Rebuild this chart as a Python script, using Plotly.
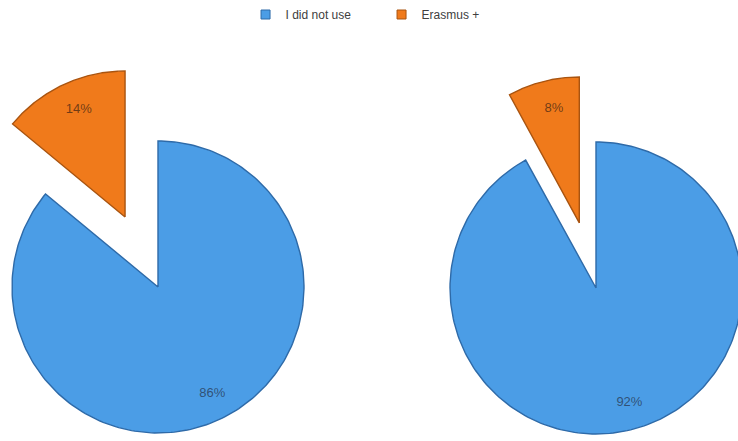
import numpy as np
import plotly.graph_objects as go

# Survey answers: share of respondents per category, two groups
categories = ["I did not use", "Erasmus +"]
left_values = [86, 14]
right_values = [92, 8]
left_labels = ["86%", "14%"]
right_labels = ["92%", "8%"]

fill_colors = ["#4b9de6", "#f07a1b"]
edge_colors = ["#2e6aa8", "#a95410"]
text_colors = ["rgba(40,55,80,0.75)", "rgba(70,40,20,0.75)"]

W, H = 738, 441
RADIUS = 146
pies = [
    dict(values=left_values, labels=left_labels, center=(158, 287), pull=[0, 0.53]),
    dict(values=right_values, labels=right_labels, center=(596, 288), pull=[0, 0.46]),
]


def wedge(cx, cy, r, start, end, n=240):
    """Closed wedge outline; angles in degrees clockwise from 12 o'clock, y grows downward."""
    t = np.radians(np.linspace(start, end, n))
    xs = np.concatenate([[cx], cx + r * np.sin(t), [cx]])
    ys = np.concatenate([[cy], cy - r * np.cos(t), [cy]])
    return xs, ys


fig = go.Figure()

for pie in pies:
    vals = np.array(pie["values"], dtype=float)
    shares = vals / vals.sum() * 360.0
    start = 0.0
    cx0, cy0 = pie["center"]
    for i, (share, lab) in enumerate(zip(shares, pie["labels"])):
        end = start + share
        mid = np.radians((start + end) / 2)
        off = pie["pull"][i] * RADIUS
        cx = cx0 + off * np.sin(mid)
        cy = cy0 - off * np.cos(mid)
        xs, ys = wedge(cx, cy, RADIUS, start, end)
        fig.add_trace(go.Scatter(
            x=xs, y=ys, mode="lines", fill="toself",
            fillcolor=fill_colors[i],
            line=dict(color=edge_colors[i], width=1.4),
            hoverinfo="skip", showlegend=False,
        ))
        lr = 0.81 * RADIUS
        fig.add_trace(go.Scatter(
            x=[cx + lr * np.sin(mid) + 4], y=[cy - lr * np.cos(mid)],
            mode="text", text=[lab],
            textfont=dict(family="Liberation Sans", size=13, color=text_colors[i]),
            hoverinfo="skip", showlegend=False,
        ))
        start = end

# legend entries
for name, c, ec in zip(categories, fill_colors, edge_colors):
    fig.add_trace(go.Scatter(
        x=[None], y=[None], mode="markers", name=name,
        marker=dict(symbol="square", size=9, color=c, line=dict(color=ec, width=1)),
    ))

fig.update_layout(
    width=W, height=H,
    margin=dict(l=0, r=0, t=0, b=0),
    paper_bgcolor="white", plot_bgcolor="white",
    xaxis=dict(range=[0, W], visible=False, fixedrange=True),
    yaxis=dict(range=[H, 0], visible=False, fixedrange=True),
    showlegend=True,
    legend=dict(
        orientation="h", x=0.3327, xanchor="left", y=1.0, yanchor="top",
        entrywidth=91, entrywidthmode="pixels",
        font=dict(family="Liberation Sans", size=12, color="#404040"),
        bgcolor="rgba(0,0,0,0)",
    ),
)

fig.write_html("out.html")
